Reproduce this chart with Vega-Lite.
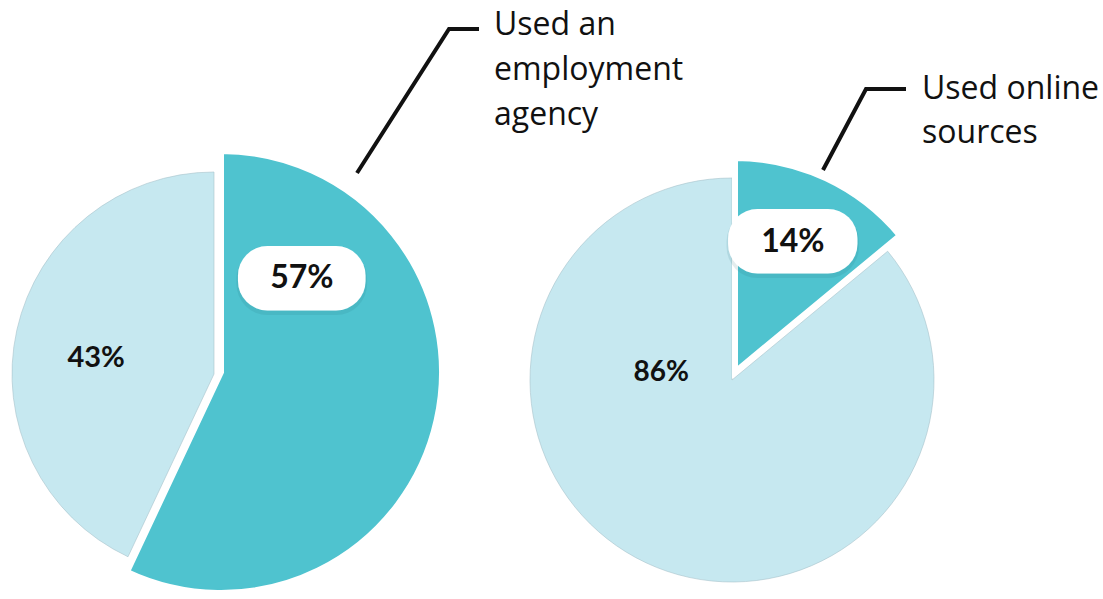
{
  "$schema": "https://vega.github.io/schema/vega-lite/v6.json",
  "padding": 0,
  "spacing": 0,
  "bounds": "flush",
  "background": "white",
  "config": {"view": {"stroke": null}},
  "hconcat": [
    {
      "width": 470,
      "height": 599,
      "data": {"values": [
        {"answer": "Yes", "share": 0.57},
        {"answer": "No", "share": 0.43}
      ]},
      "resolve": {"scale": {"x": "shared", "y": "shared"}},
      "layer": [
        {
          "mark": {"type": "arc", "radius": 202, "fill": "#c6e8f0", "stroke": "#a8c3cb", "strokeWidth": 0.6},
          "encoding": {
            "x": {"datum": 0, "type": "quantitative", "scale": {"domain": [-213, 257], "nice": false, "zero": false}, "axis": null},
            "y": {"datum": 0, "type": "quantitative", "scale": {"domain": [-374, 225], "reverse": true, "nice": false, "zero": false}, "axis": null},
            "theta": {"field": "share", "type": "quantitative", "stack": true, "scale": {"domain": [0, 1]}},
            "order": {"field": "answer", "sort": "descending"},
            "opacity": {"condition": {"test": "datum.answer === 'Yes'", "value": 0}, "value": 1}
          }
        },
        {
          "mark": {"type": "arc", "radius": 221, "xOffset": 7, "yOffset": -2, "fill": "#4fc3cf", "stroke": "white", "strokeWidth": 6},
          "encoding": {
            "x": {"datum": 0, "type": "quantitative"},
            "y": {"datum": 0, "type": "quantitative"},
            "theta": {"field": "share", "type": "quantitative", "stack": true},
            "order": {"field": "answer", "sort": "descending"},
            "opacity": {"condition": {"test": "datum.answer === 'No'", "value": 0}, "value": 1}
          }
        },
        {
          "mark": {"type": "text", "text": "—", "font": "DejaVu Sans", "fontSize": 76, "align": "center", "baseline": "alphabetic", "dy": 24, "fill": "#1f6f79", "stroke": "#1f6f79", "strokeWidth": 62, "strokeJoin": "round", "radius": 130, "thetaOffset": -1.049},
          "encoding": {
            "x": {"datum": 0, "type": "quantitative"},
            "y": {"datum": 0, "type": "quantitative"},
            "theta": {"field": "share", "type": "quantitative", "stack": true},
            "order": {"field": "answer", "sort": "descending"},
            "opacity": {"condition": {"test": "datum.answer === 'No'", "value": 0}, "value": 0.12}
          }
        },
        {
          "mark": {"type": "text", "text": "—", "font": "DejaVu Sans", "fontSize": 76, "align": "center", "baseline": "alphabetic", "dy": 21, "fill": "white", "stroke": "white", "strokeWidth": 59, "strokeJoin": "round", "radius": 130, "thetaOffset": -1.049},
          "encoding": {
            "x": {"datum": 0, "type": "quantitative"},
            "y": {"datum": 0, "type": "quantitative"},
            "theta": {"field": "share", "type": "quantitative", "stack": true},
            "order": {"field": "answer", "sort": "descending"},
            "opacity": {"condition": {"test": "datum.answer === 'No'", "value": 0}, "value": 1}
          }
        },
        {
          "mark": {"type": "text", "font": "Lato", "fontWeight": "bold", "fontSize": 32, "align": "center", "baseline": "middle", "color": "#111111", "radius": 130, "thetaOffset": -1.049},
          "encoding": {
            "x": {"datum": 0, "type": "quantitative"},
            "y": {"datum": 0, "type": "quantitative"},
            "theta": {"field": "share", "type": "quantitative", "stack": true},
            "order": {"field": "answer", "sort": "descending"},
            "text": {"field": "share", "type": "quantitative", "format": ".0%"},
            "opacity": {"condition": {"test": "datum.answer === 'No'", "value": 0}, "value": 1}
          }
        },
        {
          "mark": {"type": "text", "font": "Lato", "fontWeight": "bold", "fontSize": 29, "align": "center", "baseline": "middle", "color": "#111111", "radius": 119, "thetaOffset": -0.085},
          "encoding": {
            "x": {"datum": 0, "type": "quantitative"},
            "y": {"datum": 0, "type": "quantitative"},
            "theta": {"field": "share", "type": "quantitative", "stack": true},
            "order": {"field": "answer", "sort": "descending"},
            "text": {"field": "share", "type": "quantitative", "format": ".0%"},
            "opacity": {"condition": {"test": "datum.answer === 'Yes'", "value": 0}, "value": 1}
          }
        },
        {
          "data": {"values": [
            {"px": 143, "py": -201},
            {"px": 235, "py": -345},
            {"px": 265, "py": -345}
          ]},
          "mark": {"type": "line", "color": "#111111", "strokeWidth": 4},
          "encoding": {
            "x": {"field": "px", "type": "quantitative"},
            "y": {"field": "py", "type": "quantitative"}
          }
        },
        {
          "data": {"values": [
            {"px": 280, "py": -339, "label": "Used an\nemployment\nagency"}
          ]},
          "mark": {"type": "text", "align": "left", "baseline": "alphabetic", "lineBreak": "\n", "lineHeight": 45, "font": "Open Sans", "fontSize": 32, "color": "#111111"},
          "encoding": {
            "x": {"field": "px", "type": "quantitative"},
            "y": {"field": "py", "type": "quantitative"},
            "text": {"field": "label"}
          }
        }
      ]
    },
    {
      "width": 633,
      "height": 599,
      "data": {"values": [
        {"answer": "Yes", "share": 0.14},
        {"answer": "No", "share": 0.86}
      ]},
      "resolve": {"scale": {"x": "shared", "y": "shared"}},
      "layer": [
        {
          "mark": {"type": "arc", "radius": 202, "fill": "#c6e8f0", "stroke": "#a8c3cb", "strokeWidth": 0.6},
          "encoding": {
            "x": {"datum": 0, "type": "quantitative", "scale": {"domain": [-261, 372], "nice": false, "zero": false}, "axis": null},
            "y": {"datum": 0, "type": "quantitative", "scale": {"domain": [-380, 219], "reverse": true, "nice": false, "zero": false}, "axis": null},
            "theta": {"field": "share", "type": "quantitative", "stack": true, "scale": {"domain": [0, 1]}},
            "order": {"field": "answer", "sort": "descending"},
            "opacity": {"condition": {"test": "datum.answer === 'Yes'", "value": 0}, "value": 1}
          }
        },
        {
          "mark": {"type": "arc", "radius": 214, "xOffset": 3, "yOffset": -8, "fill": "#4fc3cf", "stroke": "white", "strokeWidth": 6},
          "encoding": {
            "x": {"datum": 0, "type": "quantitative"},
            "y": {"datum": 0, "type": "quantitative"},
            "theta": {"field": "share", "type": "quantitative", "stack": true},
            "order": {"field": "answer", "sort": "descending"},
            "opacity": {"condition": {"test": "datum.answer === 'No'", "value": 0}, "value": 1}
          }
        },
        {
          "mark": {"type": "text", "text": "—", "font": "DejaVu Sans", "fontSize": 78, "align": "center", "baseline": "alphabetic", "dy": 24, "fill": "#1f6f79", "stroke": "#1f6f79", "strokeWidth": 62, "strokeJoin": "round", "radius": 151, "thetaOffset": -0.025},
          "encoding": {
            "x": {"datum": 0, "type": "quantitative"},
            "y": {"datum": 0, "type": "quantitative"},
            "theta": {"field": "share", "type": "quantitative", "stack": true},
            "order": {"field": "answer", "sort": "descending"},
            "opacity": {"condition": {"test": "datum.answer === 'No'", "value": 0}, "value": 0.12}
          }
        },
        {
          "mark": {"type": "text", "text": "—", "font": "DejaVu Sans", "fontSize": 78, "align": "center", "baseline": "alphabetic", "dy": 21, "fill": "white", "stroke": "white", "strokeWidth": 59, "strokeJoin": "round", "radius": 151, "thetaOffset": -0.025},
          "encoding": {
            "x": {"datum": 0, "type": "quantitative"},
            "y": {"datum": 0, "type": "quantitative"},
            "theta": {"field": "share", "type": "quantitative", "stack": true},
            "order": {"field": "answer", "sort": "descending"},
            "opacity": {"condition": {"test": "datum.answer === 'No'", "value": 0}, "value": 1}
          }
        },
        {
          "mark": {"type": "text", "font": "Lato", "fontWeight": "bold", "fontSize": 32, "align": "center", "baseline": "middle", "color": "#111111", "radius": 151, "thetaOffset": -0.025},
          "encoding": {
            "x": {"datum": 0, "type": "quantitative"},
            "y": {"datum": 0, "type": "quantitative"},
            "theta": {"field": "share", "type": "quantitative", "stack": true},
            "order": {"field": "answer", "sort": "descending"},
            "text": {"field": "share", "type": "quantitative", "format": ".0%"},
            "opacity": {"condition": {"test": "datum.answer === 'No'", "value": 0}, "value": 1}
          }
        },
        {
          "mark": {"type": "text", "font": "Lato", "fontWeight": "bold", "fontSize": 28, "align": "center", "baseline": "middle", "color": "#111111", "radius": 71, "thetaOffset": 1.229},
          "encoding": {
            "x": {"datum": 0, "type": "quantitative"},
            "y": {"datum": 0, "type": "quantitative"},
            "theta": {"field": "share", "type": "quantitative", "stack": true},
            "order": {"field": "answer", "sort": "descending"},
            "text": {"field": "share", "type": "quantitative", "format": ".0%"},
            "opacity": {"condition": {"test": "datum.answer === 'Yes'", "value": 0}, "value": 1}
          }
        },
        {
          "data": {"values": [
            {"px": 91, "py": -210},
            {"px": 134, "py": -291},
            {"px": 174, "py": -291}
          ]},
          "mark": {"type": "line", "color": "#111111", "strokeWidth": 4},
          "encoding": {
            "x": {"field": "px", "type": "quantitative"},
            "y": {"field": "py", "type": "quantitative"}
          }
        },
        {
          "data": {"values": [
            {"px": 190, "py": -281, "label": "Used online\nsources"}
          ]},
          "mark": {"type": "text", "align": "left", "baseline": "alphabetic", "lineBreak": "\n", "lineHeight": 44, "font": "Open Sans", "fontSize": 32, "color": "#111111"},
          "encoding": {
            "x": {"field": "px", "type": "quantitative"},
            "y": {"field": "py", "type": "quantitative"},
            "text": {"field": "label"}
          }
        }
      ]
    }
  ]
}
